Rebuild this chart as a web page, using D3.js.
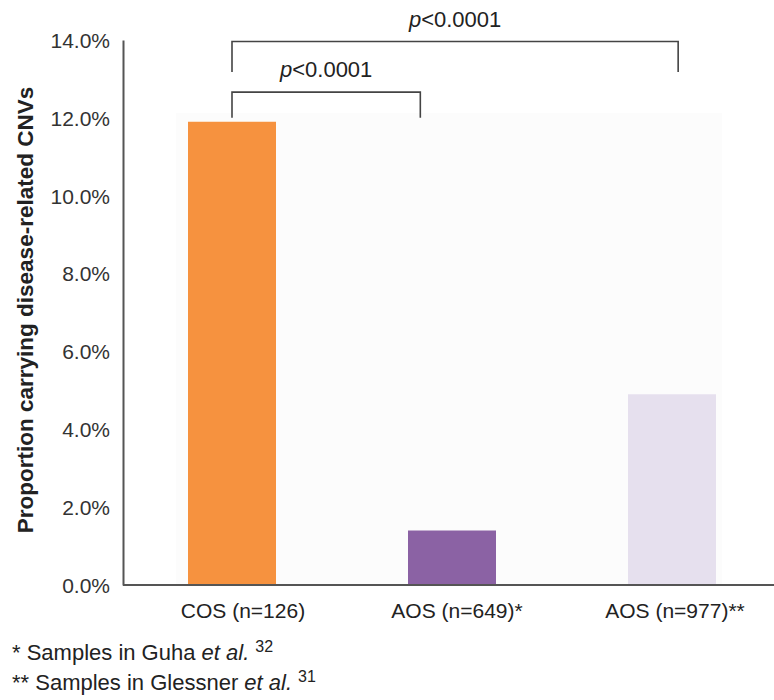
<!DOCTYPE html>
<html>
<head>
<meta charset="utf-8">
<script src="https://cdn.jsdelivr.net/npm/d3@7"></script>
<style>
  body { margin: 0; background: #fff; }
  text { font-family: "Liberation Sans", Arial, sans-serif; }
</style>
</head>
<body>
<div id="chart"></div>
<script>
// Data
const groups = ["COS (n=126)", "AOS (n=649)*", "AOS (n=977)**"];
const proportions = [0.119, 0.014, 0.049];
const barColors = ["#F6923F", "#8B62A4", "#E6E0EE"];
const yTicks = [0, 0.02, 0.04, 0.06, 0.08, 0.10, 0.12, 0.14];
const comparisons = [
    {from: 0, to: 1, label: "<0.0001"},
    {from: 0, to: 2, label: "<0.0001"}
];

const width = 774, height = 700;
const plotLeft = 123, plotBottom = 585, plotTop = 40;

const svg = d3.select("#chart")
    .append("svg")
    .attr("width", width)
    .attr("height", height);

// Scales
const x = d3.scaleBand()
    .domain(groups)
    .range([122, 782])
    .paddingInner(0.6)
    .paddingOuter(0.3);

const y = d3.scaleLinear()
    .domain([0, 0.14])
    .range([plotBottom, plotTop]);

// faint plot background
svg.append("rect")
    .attr("x", 176)
    .attr("y", 113)
    .attr("width", 546)
    .attr("height", plotBottom - 113)
    .style("fill", "#fcfcfc");

// Bars
svg.selectAll(".bar")
    .data(groups)
    .enter()
    .append("rect")
    .attr("class", "bar")
    .attr("x", d => x(d))
    .attr("width", x.bandwidth())
    .attr("y", (d, i) => y(proportions[i]))
    .attr("height", (d, i) => plotBottom - y(proportions[i]))
    .style("fill", (d, i) => barColors[i]);

// Y axis
const yAxis = svg.append("g")
    .attr("transform", `translate(${plotLeft},0)`)
    .call(d3.axisLeft(y)
        .tickValues(yTicks)
        .tickSize(0)
        .tickPadding(13)
        .tickFormat(d3.format(".1%")));
yAxis.select(".domain")
    .attr("stroke", "#555")
    .attr("stroke-width", 2);
yAxis.selectAll("text")
    .style("font-size", "21px")
    .style("fill", "#333")
    .attr("dy", "0.35em");

// X axis
const xAxis = svg.append("g")
    .attr("transform", `translate(0,${plotBottom})`)
    .call(d3.axisBottom(x).tickSize(0).tickPadding(18));
xAxis.select(".domain")
    .attr("d", `M${plotLeft},0H${width}`)
    .attr("stroke", "#555")
    .attr("stroke-width", 2);
xAxis.selectAll("text")
    .attr("dx", (d, i) => [11, 5, 3][i])
    .style("font-size", "21px")
    .style("fill", "#222");

// Y axis title
svg.append("text")
    .attr("transform", "translate(33,310) rotate(-90)")
    .style("text-anchor", "middle")
    .style("font-size", "22.5px")
    .style("font-weight", "bold")
    .style("fill", "#222")
    .text("Proportion carrying disease-related CNVs");

// Significance brackets (right ends sit left of the bar centres in the figure)
const levels = [
    {topV: 0.1266, legV: 0.120, endFrac: 0.14},
    {topV: 0.1396, legV: 0.1318, endFrac: 0.57}
];
comparisons.forEach((c, k) => {
    const lv = levels[k];
    const x1 = x(groups[c.from]) + x.bandwidth() / 2;
    const x2 = x(groups[c.to]) + x.bandwidth() * lv.endFrac;
    svg.append("path")
        .attr("d", `M${x1},${y(lv.legV)}V${y(lv.topV)}H${x2}V${y(lv.legV)}`)
        .attr("fill", "none")
        .attr("stroke", "#444")
        .attr("stroke-width", 1.6);
    const t = svg.append("text")
        .attr("x", (x1 + x2) / 2)
        .attr("y", y(lv.topV) - 15)
        .style("text-anchor", "middle")
        .style("font-size", "22px")
        .style("fill", "#222");
    t.append("tspan").style("font-style", "italic").text("p");
    t.append("tspan").text(c.label);
});

// Footnotes
const notes = [
    {pre: "* Samples in Guha ", ref: "32", yy: 660},
    {pre: "** Samples in Glessner ", ref: "31", yy: 690}
];
notes.forEach(n => {
    const t = svg.append("text")
        .attr("x", 12)
        .attr("y", n.yy)
        .style("font-size", "22px")
        .style("fill", "#222");
    t.append("tspan").text(n.pre);
    t.append("tspan").style("font-style", "italic").text("et al.");
    t.append("tspan").attr("dx", 6).attr("dy", -8).style("font-size", "16px").text(n.ref);
});
</script>
</body>
</html>
